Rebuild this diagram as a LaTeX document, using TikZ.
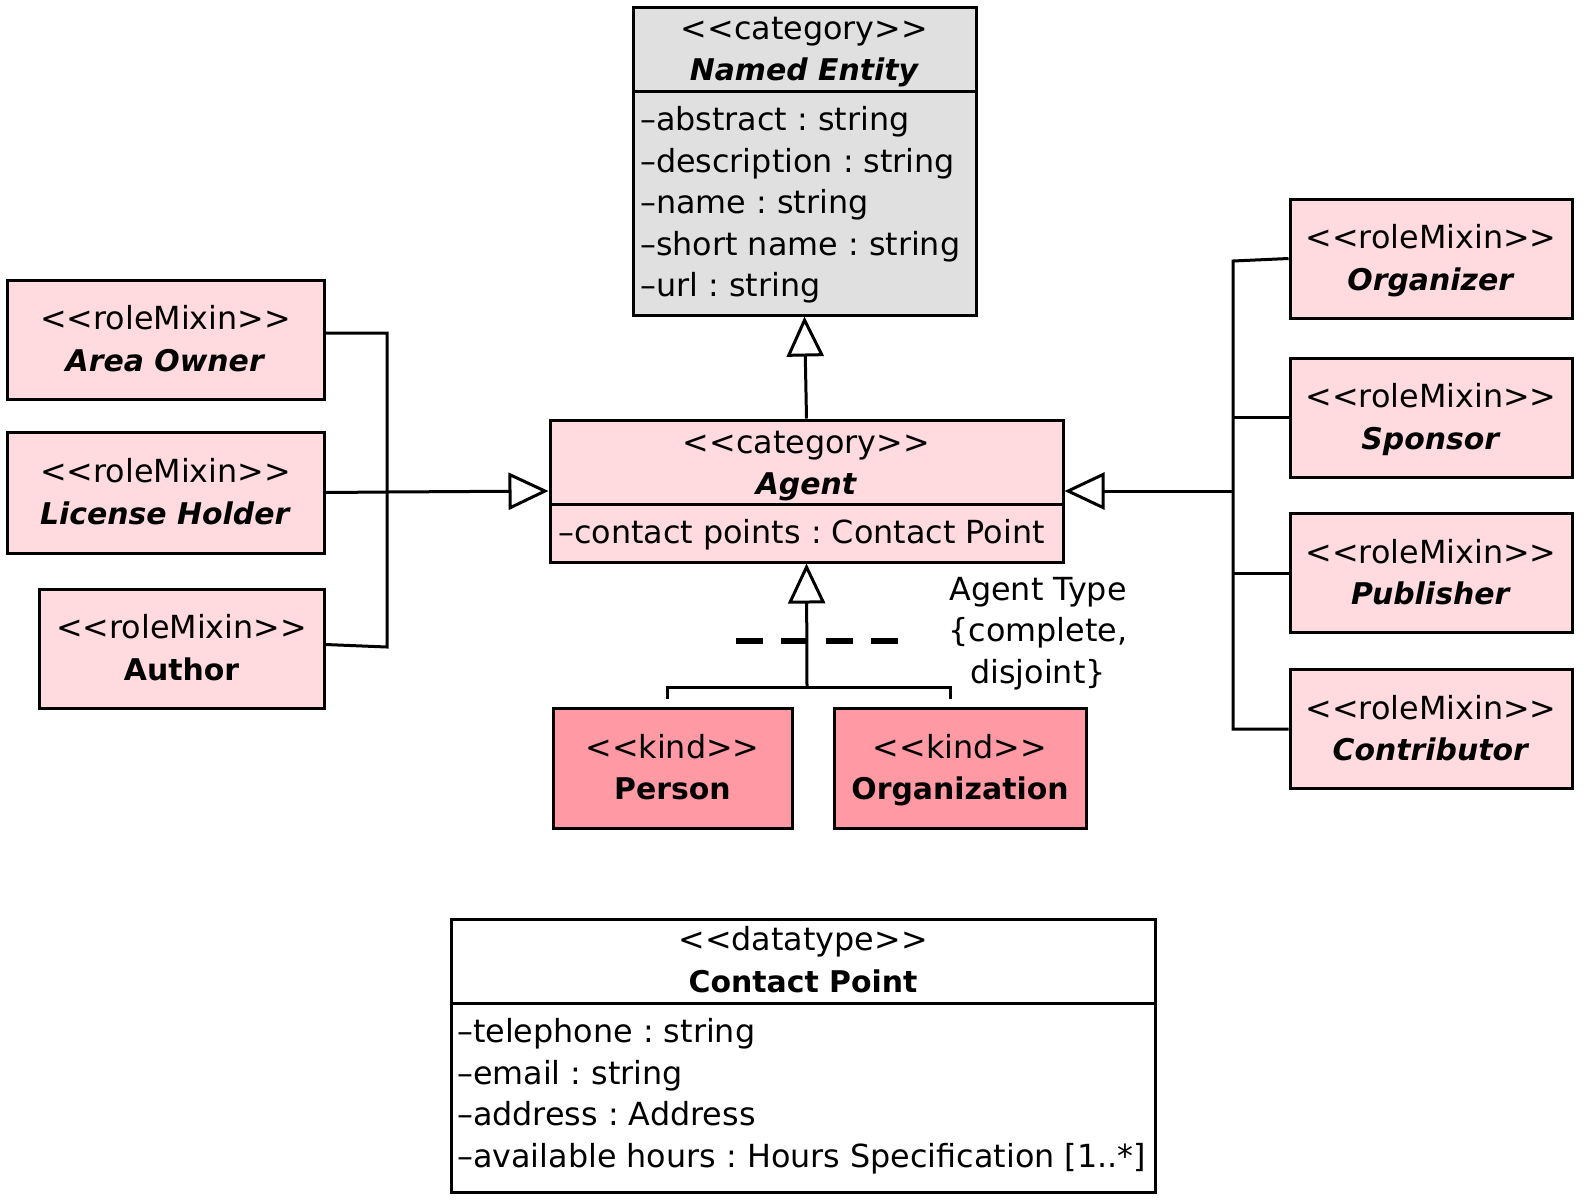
\documentclass[tikz,border=0pt]{standalone}
\usepackage{fontspec}
\newfontfamily\umlfont{DejaVu Sans}[BoldFeatures={Scale=0.94},BoldItalicFeatures={Scale=0.94}]
\usetikzlibrary{arrows.meta,calc,positioning}
\definecolor{rolepink}{RGB}{255,218,222}
\definecolor{kindpink}{RGB}{255,153,163}
\definecolor{catgrey}{RGB}{224,224,224}
\newcommand{\topstrut}{\rule{0pt}{34pt}}
\newcommand{\stereo}[1]{\topstrut<<#1>>}% #1=stereotype name
\newcommand{\bi}[1]{\textbf{\textit{#1}}\strut}
\newcommand{\bo}[1]{\textbf{#1}\strut}
\tikzset{
  box/.style={draw, line width=3pt, inner sep=0pt},
  role/.style={box, fill=rolepink, minimum height=119pt, align=center},
  kind/.style={box, fill=kindpink, minimum height=120pt, align=center},
  attrs/.style={anchor=west, align=left, inner sep=0pt},
  conn/.style={line width=3pt},
  gen/.style={-{Triangle[length=40pt,width=37pt,fill=white]}}
}

\begin{document}
\frenchspacing
\begin{tikzpicture}[x=1pt,y=-1pt,font=\umlfont\fontsize{31.8}{41.5}\selectfont]
  \useasboundingbox (0,0) rectangle (1584,1203);

  % classes with attributes
  \node [box, fill=catgrey, minimum width=343pt, minimum height=308pt] (named) at (804.5,161) {};
  \draw [conn] (named.west |- 0,91) -- (named.east |- 0,91);
  \node [align=center, inner sep=0pt] (namedhead) at (804.5,49) {\stereo{category}\\\bi{Named Entity}};
  \node [attrs] (namedattrs) at (640,205) {–abstract : string\\–description : string\\–name : string\\–short name : string\\–url : string};

  \node [box, fill=rolepink, minimum width=513pt, minimum height=142pt] (agent) at (806.5,491) {};
  \draw [conn] (agent.west |- 0,504) -- (agent.east |- 0,504);
  \node [align=center, inner sep=0pt] (agenthead) at (806.5,463) {\stereo{category}\\\bi{Agent}};
  \node [attrs] (agentattrs) at (558,535) {–contact points : Contact Point};

  \node [box, fill=white, minimum width=704pt, minimum height=273pt] (contact) at (803,1055.5) {};
  \draw [conn] (contact.west |- 0,1003) -- (contact.east |- 0,1003);
  \node [align=center, inner sep=0pt] (contacthead) at (803,960.5) {\stereo{datatype}\\\bo{Contact Point}};
  \node [attrs] (contactattrs) at (457,1096) {–telephone : string\\–email : string\\–address : Address\\–available hours : Hours Specification [1..*]};

  % role mixins
  \node [role, minimum width=317pt] (areaowner) at (165.5,339.5) {\stereo{roleMixin}\\\bi{Area Owner}};
  \node [role, minimum width=317pt, minimum height=121pt] (licenseholder) at (165.5,492.5) {\stereo{roleMixin}\\\bi{License Holder}};
  \node [role, minimum width=285pt] (author) at (181.5,648.5) {\stereo{roleMixin}\\\bo{Author}};
  \node [role, minimum width=282pt] (organizer) at (1431,258.5) {\stereo{roleMixin}\\\bi{Organizer}};
  \node [role, minimum width=282pt] (sponsor) at (1431,417.5) {\stereo{roleMixin}\\\bi{Sponsor}};
  \node [role, minimum width=282pt] (publisher) at (1431,573) {\stereo{roleMixin}\\\bi{Publisher}};
  \node [role, minimum width=282pt] (contributor) at (1431,729) {\stereo{roleMixin}\\\bi{Contributor}};

  % kinds
  \node [kind, minimum width=239pt] (person) at (672.5,768) {\stereo{kind}\\\bo{Person}};
  \node [kind, minimum width=252pt] (organization) at (960,768) {\stereo{kind}\\\bo{Organization}};

  % left generalizations
  \coordinate (ltop) at (387,333);
  \coordinate (lmid) at (387,492);
  \coordinate (lbot) at (387,647);
  \draw [conn] ([yshift=6.5pt]areaowner.east) -- (ltop) -- (lbot) -- ([yshift=4pt]author.east);
  \draw [conn] (licenseholder.east) -- (lmid);
  \draw [conn, gen] (lmid) -- (agent.west);

  % right generalizations
  \coordinate (rtop) at (1233,261);
  \coordinate (rmid) at (1233,491);
  \coordinate (rbot) at (1233,729);
  \draw [conn] (organizer.west) -- (rtop) -- (rbot) -- (contributor.west);
  \draw [conn] (sponsor.west) -- (sponsor.west -| rmid);
  \draw [conn] (publisher.west) -- (publisher.west -| rmid);
  \draw [conn, gen] (rmid) -- (agent.east);

  \draw [conn, gen] (agent.north) -- (named.south);

  % generalization set
  \coordinate (gsleft) at (667,687);
  \coordinate (gsjoin) at (807,687);
  \coordinate (gsright) at (950,687);
  \draw [conn] ([xshift=-5.5pt,yshift=8pt]person.north) -- (gsleft) -- (gsright) -- ([xshift=-10pt,yshift=8pt]organization.north);
  \draw [conn, gen] (gsjoin) -- (agent.south);
  \draw [line width=6pt, dash pattern=on 27pt off 18pt] (736,641) -- (898,641);
  \node [align=center, inner sep=0pt] (gslabel) at (1038,631) {\topstrut Agent Type\\\{complete,\\disjoint\}\strut};
\end{tikzpicture}
\end{document}
